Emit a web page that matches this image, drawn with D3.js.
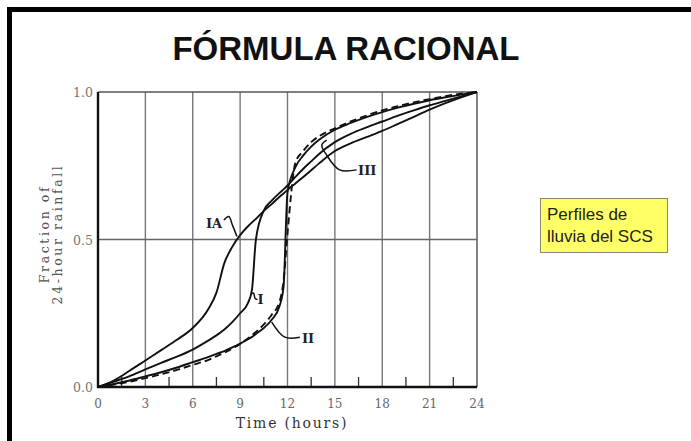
<!DOCTYPE html>
<html>
<head>
<meta charset="utf-8">
<script src="https://cdn.jsdelivr.net/npm/d3@7"></script>
<style>
  body { margin: 0; background: #fff; }
  svg { display: block; }
</style>
</head>
<body>
<div id="chart"></div>
<script>
const hours = [0, 1, 2, 3, 4, 5, 6, 7, 7.5, 8, 8.5, 9, 9.5, 9.75, 10, 10.5, 11, 11.5, 11.75, 12,
               12.5, 13, 13.5, 14, 15, 16, 17, 18, 19, 20, 21, 22, 23, 24];

// cumulative fraction of 24-hour rainfall
const typeIA = [0, 0.022, 0.055, 0.09, 0.125, 0.16, 0.2, 0.265, 0.32, 0.42, 0.475, 0.515, 0.545, 0.558, 0.57, 0.597, 0.62, 0.645, 0.656, 0.668,
                0.69, 0.712, 0.735, 0.758, 0.8, 0.826, 0.847, 0.868, 0.892, 0.916, 0.94, 0.962, 0.982, 1];
const typeI  = [0, 0.018, 0.037, 0.06, 0.082, 0.103, 0.127, 0.158, 0.175, 0.195, 0.22, 0.25, 0.285, 0.33, 0.5, 0.598, 0.632, 0.658, 0.67, 0.683,
                0.712, 0.74, 0.765, 0.79, 0.83, 0.858, 0.88, 0.9, 0.92, 0.938, 0.955, 0.97, 0.985, 1];
const typeII = [0, 0.01, 0.022, 0.036, 0.05, 0.066, 0.084, 0.102, 0.112, 0.122, 0.134, 0.147, 0.162, 0.17, 0.18, 0.2, 0.228, 0.275, 0.34, 0.66,
                0.745, 0.785, 0.815, 0.838, 0.872, 0.895, 0.915, 0.932, 0.947, 0.96, 0.972, 0.982, 0.991, 1];
const typeIII = [0, 0.008, 0.018, 0.03, 0.043, 0.058, 0.075, 0.092, 0.104, 0.116, 0.13, 0.146, 0.165, 0.175, 0.187, 0.212, 0.245, 0.29, 0.36, 0.52,
                 0.76, 0.8, 0.83, 0.85, 0.877, 0.9, 0.92, 0.938, 0.952, 0.965, 0.976, 0.986, 0.994, 1];

const gridHours = [3, 6, 9, 12, 15, 18, 21];
const minorHours = [1.5, 4.5, 7.5, 10.5, 13.5, 16.5, 19.5, 22.5];
const xTicks = [0, 3, 6, 9, 12, 15, 18, 21, 24];
const yTicks = [0, 0.5, 1];

const title = "FÓRMULA RACIONAL";
const noteLines = ["Perfiles de", "lluvia del SCS"];

const W = 691, H = 441;
const svg = d3.select("#chart").append("svg")
    .attr("width", W)
    .attr("height", H);

// slide frame (right and bottom cut off)
svg.append("rect")
    .attr("x", 9.5).attr("y", 9.5)
    .attr("width", 800).attr("height", 600)
    .attr("fill", "none")
    .attr("stroke", "#000")
    .attr("stroke-width", 5);

svg.append("text")
    .attr("x", 346).attr("y", 60)
    .attr("text-anchor", "middle")
    .style("font-family", "'Liberation Sans', Arial, sans-serif")
    .style("font-weight", "bold")
    .style("font-size", "33px")
    .attr("fill", "#111")
    .text(title);

// scales
const x = d3.scaleLinear().domain([0, 24]).range([98, 477]);
const y = d3.scaleLinear().domain([0, 1]).range([387, 92]);

const g = svg.append("g");

// grid
g.selectAll(".vgrid")
    .data(gridHours)
    .enter().append("line")
    .attr("x1", d => x(d)).attr("x2", d => x(d))
    .attr("y1", y(0)).attr("y2", y(1))
    .attr("stroke", "#777")
    .attr("stroke-width", 1.4);

g.append("line")
    .attr("x1", x(0)).attr("x2", x(24))
    .attr("y1", y(0.5)).attr("y2", y(0.5))
    .attr("stroke", "#666").attr("stroke-width", 1.4);

g.append("line")
    .attr("x1", x(0)).attr("x2", x(24))
    .attr("y1", y(1)).attr("y2", y(1))
    .attr("stroke", "#555").attr("stroke-width", 1.4);

g.append("line")
    .attr("x1", x(24)).attr("x2", x(24))
    .attr("y1", y(0)).attr("y2", y(1))
    .attr("stroke", "#666").attr("stroke-width", 1.6);

// minor ticks
g.selectAll(".minor")
    .data(minorHours)
    .enter().append("line")
    .attr("x1", d => x(d)).attr("x2", d => x(d))
    .attr("y1", y(0)).attr("y2", y(0) - 10)
    .attr("stroke", "#333").attr("stroke-width", 1.3);

// axes lines
g.append("line")
    .attr("x1", x(0)).attr("x2", x(0))
    .attr("y1", y(0) + 1).attr("y2", y(1))
    .attr("stroke", "#111").attr("stroke-width", 2.4);
g.append("line")
    .attr("x1", x(0) - 1).attr("x2", x(24))
    .attr("y1", y(0)).attr("y2", y(0))
    .attr("stroke", "#111").attr("stroke-width", 2.4);

const serif = "'DejaVu Serif', serif";

// tick labels
g.selectAll(".xlab")
    .data(xTicks)
    .enter().append("text")
    .attr("x", d => x(d))
    .attr("y", y(0) + 21)
    .attr("text-anchor", "middle")
    .style("font-family", serif)
    .style("font-size", "12px")
    .attr("fill", "#666")
    .text(d => d);

g.selectAll(".ylab")
    .data(yTicks)
    .enter().append("text")
    .attr("x", x(0) - 5)
    .attr("y", d => y(d) + 5)
    .attr("text-anchor", "end")
    .style("font-family", serif)
    .style("font-size", "12.5px")
    .attr("fill", "#777")
    .text(d => d.toFixed(1));

// axis titles
g.append("text")
    .attr("x", 292)
    .attr("y", 428)
    .attr("text-anchor", "middle")
    .style("font-family", serif)
    .style("font-size", "14px")
    .style("letter-spacing", "1.8px")
    .attr("fill", "#333")
    .text("Time (hours)");

const yt = g.append("text")
    .attr("transform", "translate(49," + 234 + ") rotate(-90)")
    .attr("text-anchor", "middle")
    .style("font-family", serif)
    .style("font-size", "12.5px")
    .style("letter-spacing", "2.6px")
    .attr("fill", "#555");
yt.append("tspan").attr("x", 0).attr("dy", 0).text("Fraction of");
yt.append("tspan").attr("x", 0).attr("dy", 12.5).text("24-hour rainfall");

// curves
const line = d3.line()
    .x(d => x(d[0]))
    .y(d => y(d[1]))
    .curve(d3.curveMonotoneX);

const series = [
    {name: "IA", values: typeIA, dash: null},
    {name: "I", values: typeI, dash: null},
    {name: "II", values: typeII, dash: null},
    {name: "III", values: typeIII, dash: "7,4"}
];

g.selectAll(".curve")
    .data(series)
    .enter().append("path")
    .attr("d", s => line(hours.map((h, i) => [h, s.values[i]])))
    .attr("fill", "none")
    .attr("stroke", "#111")
    .attr("stroke-width", 1.9)
    .attr("stroke-dasharray", s => s.dash);

// curve labels with leaders (hours, fraction)
const labels = [
    {text: "IA", at: [7.35, 0.556], leader: [[7.97, 0.566], [8.28, 0.578], [8.52, 0.548], [8.8, 0.51]]},
    {text: "I", at: [10.3, 0.3], leader: [[9.72, 0.316], [9.85, 0.318], [9.95, 0.3], [10.1, 0.297]]},
    {text: "II", at: [13.3, 0.166], leader: [[11.0, 0.22], [11.83, 0.169], [12.78, 0.169]]},
    {text: "III", at: [17.05, 0.736], leader: [[16.38, 0.736], [15.3, 0.736], [14.48, 0.786], [14.17, 0.82], [14.48, 0.837]]}
];

g.selectAll(".lead")
    .data(labels)
    .enter().append("path")
    .attr("d", d => d3.line().x(p => x(p[0])).y(p => y(p[1])).curve(d3.curveCatmullRom)(d.leader))
    .attr("fill", "none")
    .attr("stroke", "#111")
    .attr("stroke-width", 1.5);

g.selectAll(".clab")
    .data(labels)
    .enter().append("text")
    .attr("x", d => x(d.at[0]))
    .attr("y", d => y(d.at[1]) + 5)
    .attr("text-anchor", "middle")
    .style("font-family", serif)
    .style("font-size", "13px")
    .style("font-weight", "bold")
    .attr("fill", "#222")
    .text(d => d.text);

// note box
const note = svg.append("g");
note.append("rect")
    .attr("x", 540.5).attr("y", 198.5)
    .attr("width", 127).attr("height", 54)
    .attr("fill", "#ffff66")
    .attr("stroke", "#8a8a6a")
    .attr("stroke-width", 1);
note.selectAll("text")
    .data(noteLines)
    .enter().append("text")
    .attr("x", 547)
    .attr("y", (d, i) => 220 + i * 22)
    .style("font-family", "'Liberation Sans', Arial, sans-serif")
    .style("font-size", "17px")
    .attr("fill", "#222")
    .text(d => d);
</script>
</body>
</html>
